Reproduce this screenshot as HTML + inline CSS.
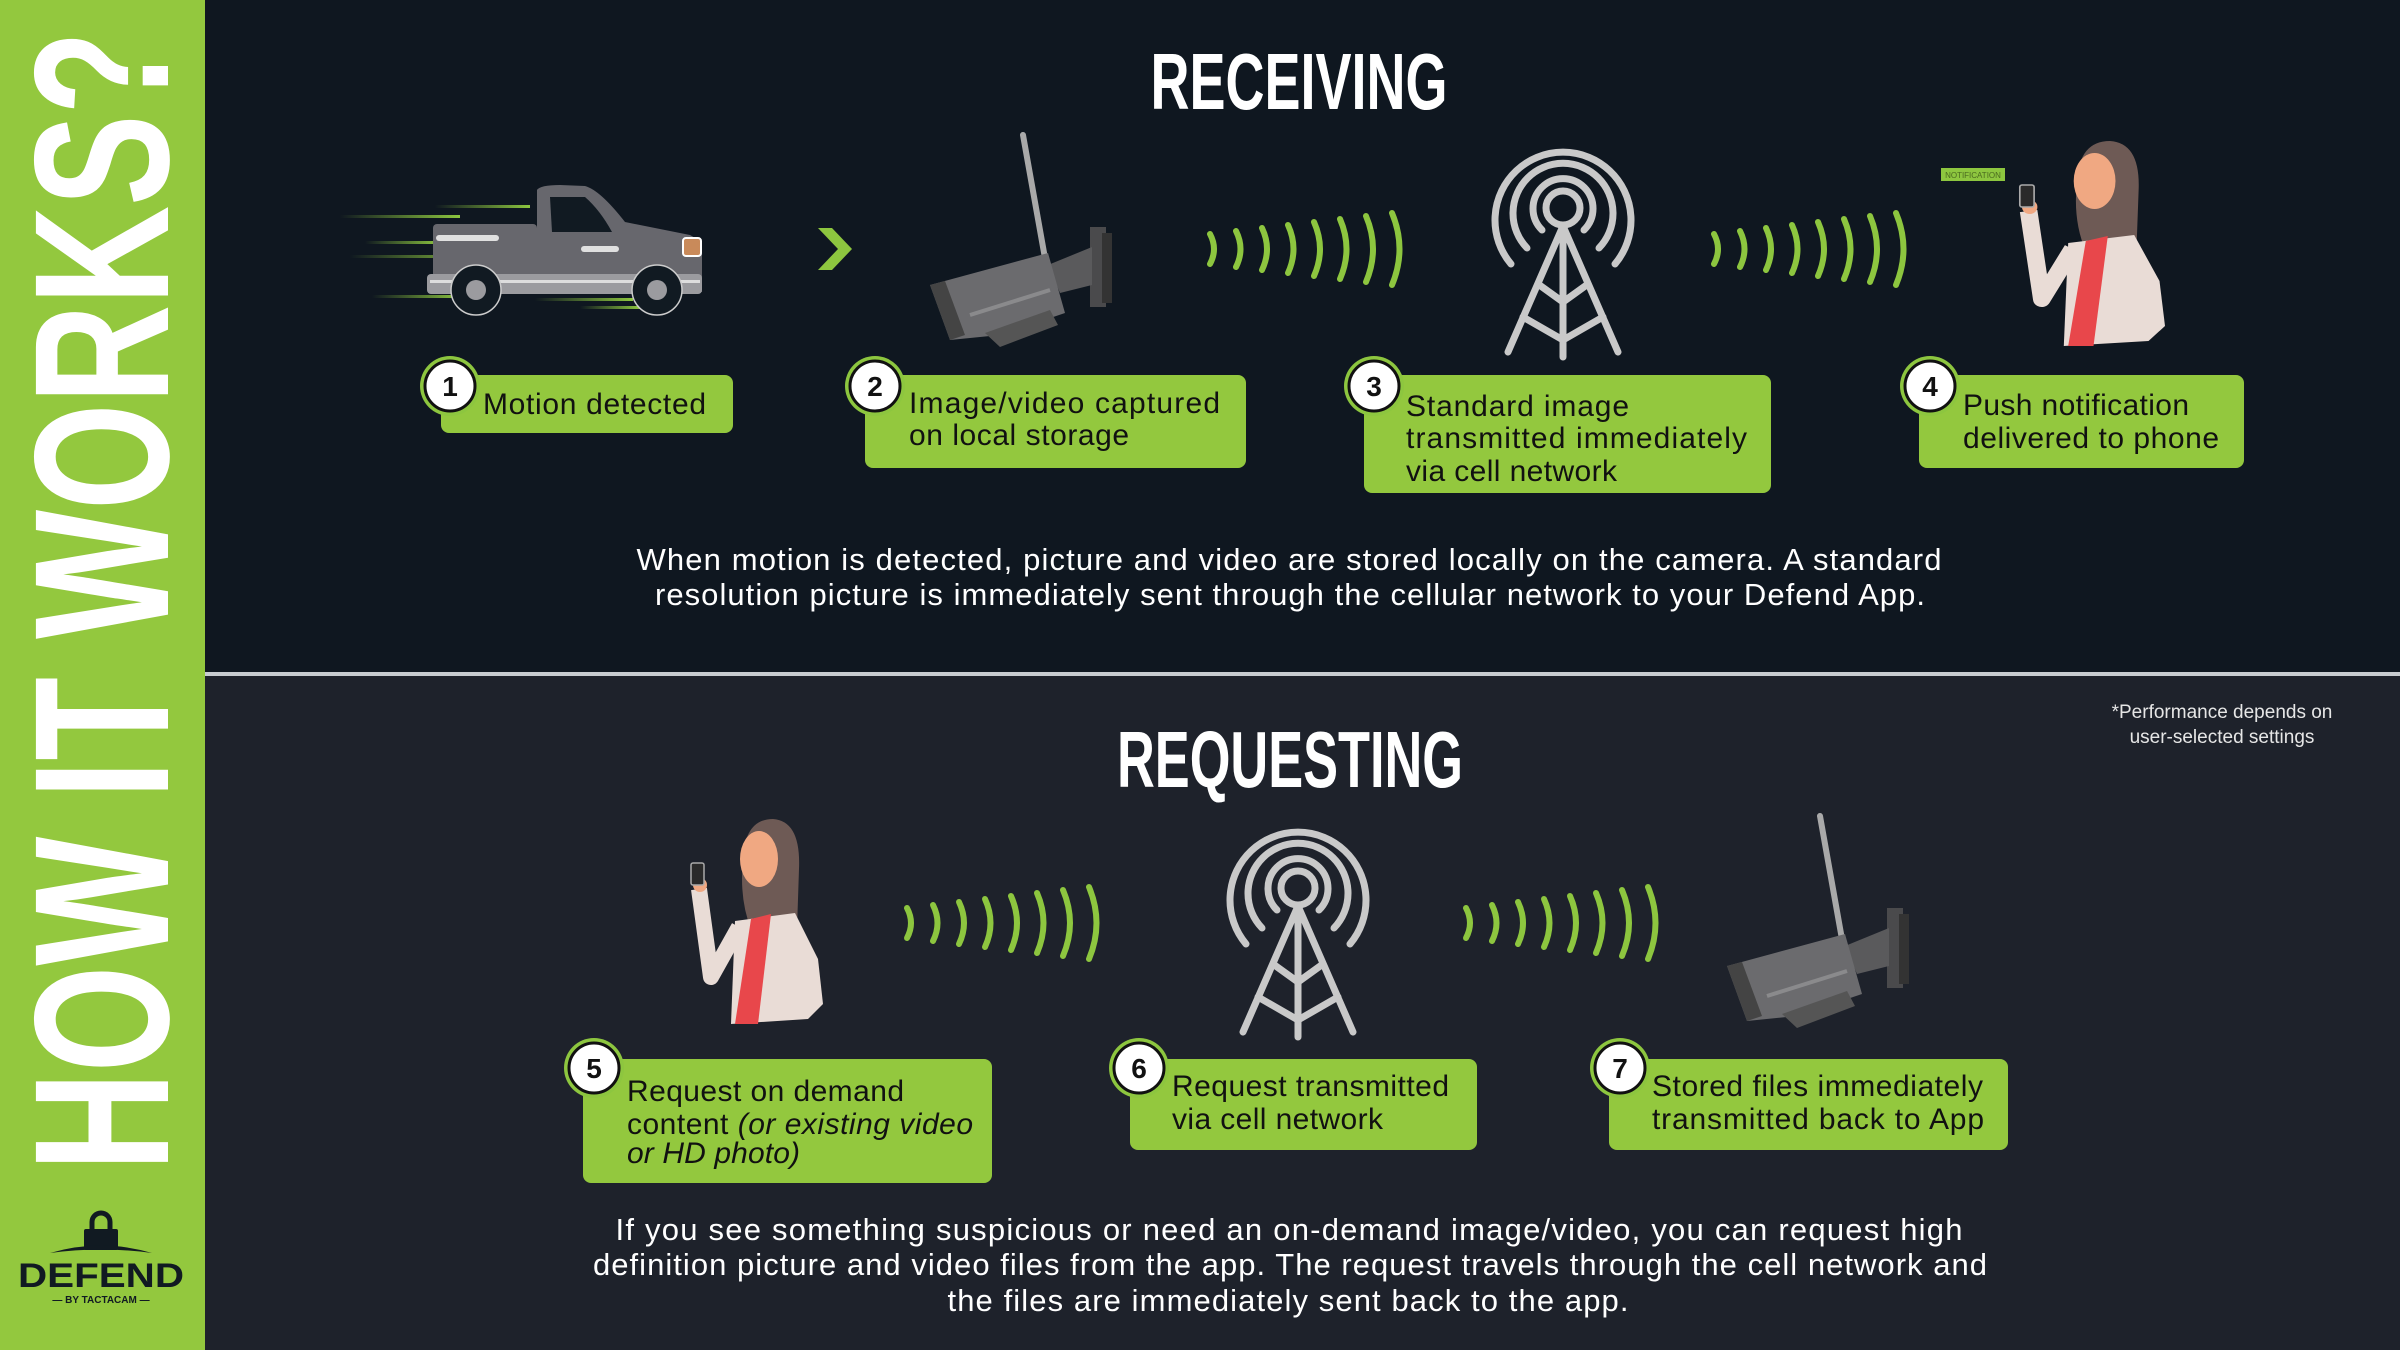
<!DOCTYPE html>
<html><head><meta charset="utf-8"><style>
html,body{margin:0;padding:0;background:#0f1720;}
svg{display:block}
text{font-family:"Liberation Sans",sans-serif;}
</style></head><body>
<svg width="2400" height="1350" viewBox="0 0 2400 1350" xmlns="http://www.w3.org/2000/svg">
<defs>
<linearGradient id="sl" x1="0" x2="1"><stop offset="0" stop-color="#8dc63f" stop-opacity="0"/><stop offset="1" stop-color="#8dc63f"/></linearGradient>
<g id="waves" fill="none" stroke="#8dc63f" stroke-width="6" stroke-linecap="round">
<path d="M0,-15 Q8,0 0,15"/><path d="M26,-18 Q35,0 26,18"/><path d="M52,-21 Q62,0 52,21"/><path d="M78,-24 Q89,0 78,24"/>
<path d="M104,-27 Q116,0 104,27"/><path d="M130,-30 Q143,0 130,30"/><path d="M156,-33 Q170,0 156,33"/><path d="M182,-36 Q197,0 182,36"/>
</g>
<g id="tower" fill="none" stroke="#c9c9c9" stroke-width="7" stroke-linecap="round">
<circle cx="69" cy="66" r="17"/>
<path d="M48,88 A30,30 0 1 1 90,88"/>
<path d="M33,106 A50,50 0 1 1 105,106"/>
<path d="M17,122 A68,68 0 1 1 121,122"/>
<path d="M69,84 L14,210 M69,84 L124,210 M69,84 L69,215"/>
<path d="M44,142 L69,160 L94,142 M29,175 L69,198 L109,175"/>
</g>
<g id="camera">
<line x1="93" y1="0" x2="118" y2="140" stroke="#a9a9a9" stroke-width="6" stroke-linecap="round"/>
<rect x="160" y="92" width="16" height="80" fill="#4a4a4c"/>
<rect x="172" y="98" width="10" height="70" fill="#333"/>
<polygon points="118,130 162,112 162,150 130,158" fill="#5a5a5c"/>
<polygon points="0,150 118,118 135,178 70,200 20,205" fill="#6b6b6e"/>
<polygon points="0,150 20,205 35,200 15,146" fill="#444"/>
<polygon points="55,198 120,175 128,190 70,212" fill="#555"/>
<line x1="40" y1="180" x2="120" y2="155" stroke="#8a8a8c" stroke-width="4"/>
</g>
<g id="woman">
<path d="M70,40 Q72,0 100,0 Q128,2 126,50 L124,110 Q110,120 78,110 Q66,80 70,40Z" fill="#6e5a55"/>
<ellipse cx="86" cy="40" rx="19" ry="28" fill="#f0a882"/>
<path d="M62,102 L122,94 L145,140 L150,185 L135,200 L58,205 Z" fill="#e9dcd6"/>
<path d="M78,100 L98,95 L85,205 L62,205 Z" fill="#e8474b"/>
<path d="M66,108 L38,158 L26,70" fill="none" stroke="#e9dcd6" stroke-width="16" stroke-linejoin="round"/>
<circle cx="27" cy="66" r="7" fill="#f0a882"/>
<rect x="18" y="44" width="13" height="22" rx="2" fill="#2a2a2a" stroke="#aaa" stroke-width="1.5"/>
</g>
<g id="badge">
<circle r="30" fill="#8dc63f"/><circle r="25" fill="#fff" stroke="#111" stroke-width="3"/>
</g>
</defs>

<rect x="0" y="0" width="2400" height="675" fill="#0f1720"/>
<rect x="0" y="675" width="2400" height="675" fill="#1e222b"/>
<rect x="205" y="672" width="2195" height="4" fill="#c8ccd0"/>
<rect x="0" y="0" width="205" height="1350" fill="#93c83e"/>

<text transform="translate(168,1171) rotate(-90)" font-size="192" font-weight="bold" fill="#fff" textLength="1140" lengthAdjust="spacingAndGlyphs">HOW IT WORKS?</text>

<!-- logo -->
<g fill="#111a22">
<path d="M92,1230 v-8 a9,9 0 0 1 18,0 v8" fill="none" stroke="#111a22" stroke-width="5"/>
<rect x="84" y="1229" width="34" height="21" rx="2"/>
<path d="M50,1253 Q101,1238 152,1253 Q101,1246 50,1253Z"/>
</g>
<text x="101" y="1287" font-size="34" font-weight="bold" fill="#111a22" text-anchor="middle" textLength="166" lengthAdjust="spacingAndGlyphs">DEFEND</text>
<text x="101" y="1303" font-size="10" font-weight="bold" fill="#111a22" text-anchor="middle">— BY TACTACAM —</text>

<!-- titles -->
<text x="1299" y="109" font-size="80" font-weight="bold" fill="#fff" text-anchor="middle" textLength="297" lengthAdjust="spacingAndGlyphs">RECEIVING</text>
<text x="1290" y="787" font-size="80" font-weight="bold" fill="#fff" text-anchor="middle" textLength="346" lengthAdjust="spacingAndGlyphs">REQUESTING</text>

<!-- truck -->
<g>
<rect x="340" y="215" width="120" height="3" fill="url(#sl)"/>
<rect x="435" y="205" width="95" height="3" fill="url(#sl)"/>
<rect x="365" y="241" width="75" height="3" fill="url(#sl)"/>
<rect x="350" y="255" width="135" height="3" fill="url(#sl)"/>
<rect x="372" y="295" width="90" height="3" fill="url(#sl)"/>
<rect x="535" y="298" width="98" height="3" fill="url(#sl)"/>
<rect x="580" y="306" width="60" height="3" fill="url(#sl)"/>
<path d="M537,190 Q540,185 560,185 L585,186 Q600,190 625,222 L690,235 Q700,240 702,250 L702,292 L537,292 Z" fill="#67676d"/>
<rect x="433" y="224" width="104" height="68" rx="4" fill="#67676d"/>
<rect x="427" y="274" width="275" height="20" rx="4" fill="#9b9b9f"/>
<path d="M550,197 L585,197 Q600,210 612,232 L552,232 Z" fill="#111a22"/>
<rect x="436" y="235" width="63" height="6" rx="3" fill="#e0e0e0"/>
<rect x="581" y="246" width="38" height="6" rx="3" fill="#e0e0e0"/>
<rect x="683" y="238" width="18" height="18" rx="3" fill="#c98a5a" stroke="#fff" stroke-width="2"/>
<rect x="430" y="280" width="270" height="3" fill="#ddd"/>
<circle cx="476" cy="290" r="25" fill="#111a22" stroke="#ccc" stroke-width="1.5"/><circle cx="476" cy="290" r="10" fill="#9b9b9f"/>
<circle cx="657" cy="290" r="25" fill="#111a22" stroke="#ccc" stroke-width="1.5"/><circle cx="657" cy="290" r="10" fill="#9b9b9f"/>
</g>
<path d="M818,228 L832,228 L852,249 L832,270 L818,270 L838,249 Z" fill="#8dc63f"/>

<use href="#camera" x="930" y="135"/>
<use href="#waves" transform="translate(1210,249)"/>
<use href="#tower" transform="translate(1494,142)"/>
<use href="#waves" transform="translate(1714,249)"/>
<use href="#woman" transform="translate(2000,141) scale(1.1,1)"/>
<rect x="1941" y="168" width="64" height="13" fill="#8dc63f"/>
<text x="1973" y="178" font-size="8" fill="#4a6a1f" text-anchor="middle">NOTIFICATION</text>

<use href="#woman" transform="translate(673,819)"/>
<use href="#waves" transform="translate(907,923)"/>
<use href="#tower" transform="translate(1229,822)"/>
<use href="#waves" transform="translate(1466,923)"/>
<use href="#camera" transform="translate(1727,816)"/>

<!-- boxes -->
<g fill="#93c83e">
<rect x="441" y="375" width="292" height="58" rx="8"/>
<rect x="865" y="375" width="381" height="93" rx="8"/>
<rect x="1364" y="375" width="407" height="118" rx="8"/>
<rect x="1919" y="375" width="325" height="93" rx="8"/>
<rect x="583" y="1059" width="409" height="124" rx="8"/>
<rect x="1130" y="1059" width="347" height="91" rx="8"/>
<rect x="1609" y="1059" width="399" height="91" rx="8"/>
</g>
<g font-size="28" fill="#111" font-weight="bold" text-anchor="middle">
<use href="#badge" x="450" y="386"/><text x="450" y="396">1</text>
<use href="#badge" x="875" y="386"/><text x="875" y="396">2</text>
<use href="#badge" x="1374" y="386"/><text x="1374" y="396">3</text>
<use href="#badge" x="1930" y="386"/><text x="1930" y="396">4</text>
<use href="#badge" x="594" y="1068"/><text x="594" y="1078">5</text>
<use href="#badge" x="1139" y="1068"/><text x="1139" y="1078">6</text>
<use href="#badge" x="1620" y="1068"/><text x="1620" y="1078">7</text>
</g>
<g font-size="30" fill="#111" lengthAdjust="spacingAndGlyphs">
<text x="483" y="414" textLength="223">Motion detected</text>
<text x="909" y="413" textLength="311">Image/video captured</text><text x="909" y="445" textLength="220">on local storage</text>
<text x="1406" y="416" textLength="223">Standard image</text><text x="1406" y="448" textLength="341">transmitted immediately</text><text x="1406" y="481" textLength="211">via cell network</text>
<text x="1963" y="415" textLength="226">Push notification</text><text x="1963" y="448" textLength="256">delivered to phone</text>
<text x="627" y="1101" textLength="277">Request on demand</text><text x="627" y="1134" textLength="346">content <tspan font-style="italic">(or existing video</tspan></text><text x="627" y="1163" font-style="italic" textLength="173">or HD photo)</text>
<text x="1172" y="1096" textLength="277">Request transmitted</text><text x="1172" y="1129" textLength="211">via cell network</text>
<text x="1652" y="1096" textLength="331">Stored files immediately</text><text x="1652" y="1129" textLength="332">transmitted back to App</text>
</g>
<g font-size="31" fill="#fff" text-anchor="middle" lengthAdjust="spacingAndGlyphs">
<text x="1289" y="570" textLength="1305">When motion is detected, picture and video are stored locally on the camera. A standard</text>
<text x="1290" y="605" textLength="1270">resolution picture is immediately sent through the cellular network to your Defend App.</text>
<text x="1289" y="1240" textLength="1347">If you see something suspicious or need an on-demand image/video, you can request high</text>
<text x="1290" y="1275" textLength="1394">definition picture and video files from the app. The request travels through the cell network and</text>
<text x="1288" y="1311" textLength="681">the files are immediately sent back to the app.</text>
</g>
<g font-size="19" fill="#e6e6e6" text-anchor="middle">
<text x="2222" y="718">*Performance depends on</text>
<text x="2222" y="743">user-selected settings</text>
</g>
</svg>
</body></html>
